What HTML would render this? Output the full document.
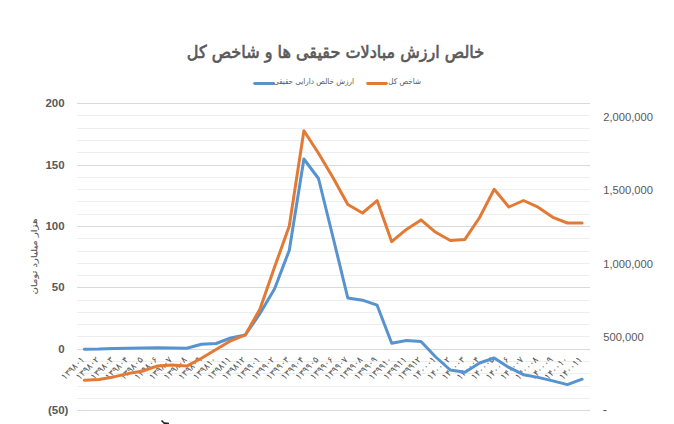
<!DOCTYPE html>
<html lang="fa"><head><meta charset="utf-8"><title>chart</title>
<style>
html,body{margin:0;padding:0;background:#fff;}
body{width:674px;height:424px;overflow:hidden;position:relative;}
svg{position:absolute;left:0;top:0;}
.la{font-family:"Liberation Sans","DejaVu Sans",sans-serif;font-weight:bold;font-size:11.5px;fill:#595959;}
.ra{font-family:"Liberation Sans","DejaVu Sans",sans-serif;font-size:11.2px;fill:#595959;}
.xa{font-family:"DejaVu Sans",sans-serif;font-size:8.8px;fill:#595959;stroke:#595959;stroke-width:0.05px;}
.tt{font-family:"DejaVu Sans",sans-serif;font-size:16.05px;fill:#595959;stroke:#595959;stroke-width:0.6px;}
.lg{font-family:"DejaVu Sans",sans-serif;font-stretch:condensed;font-size:8px;fill:#595959;}
.yt{font-family:"DejaVu Sans",sans-serif;font-size:8.6px;fill:#595959;stroke:#595959;stroke-width:0.15px;}
</style></head>
<body>
<svg width="674" height="424" viewBox="0 0 674 424">
<rect width="674" height="424" fill="#fff"/>
<rect x="77" y="410" width="513" height="1" fill="#D9D9D9"/>
<rect x="77" y="398" width="513" height="1" fill="#EEEEEE"/>
<rect x="77" y="386" width="513" height="1" fill="#EEEEEE"/>
<rect x="77" y="373" width="513" height="1" fill="#EEEEEE"/>
<rect x="77" y="361" width="513" height="1" fill="#EEEEEE"/>
<rect x="77" y="349" width="513" height="1" fill="#D9D9D9"/>
<rect x="77" y="336" width="513" height="1" fill="#EEEEEE"/>
<rect x="77" y="324" width="513" height="1" fill="#EEEEEE"/>
<rect x="77" y="312" width="513" height="1" fill="#EEEEEE"/>
<rect x="77" y="300" width="513" height="1" fill="#EEEEEE"/>
<rect x="77" y="287" width="513" height="1" fill="#D9D9D9"/>
<rect x="77" y="275" width="513" height="1" fill="#EEEEEE"/>
<rect x="77" y="263" width="513" height="1" fill="#EEEEEE"/>
<rect x="77" y="251" width="513" height="1" fill="#EEEEEE"/>
<rect x="77" y="238" width="513" height="1" fill="#EEEEEE"/>
<rect x="77" y="226" width="513" height="1" fill="#D9D9D9"/>
<rect x="77" y="214" width="513" height="1" fill="#EEEEEE"/>
<rect x="77" y="201" width="513" height="1" fill="#EEEEEE"/>
<rect x="77" y="189" width="513" height="1" fill="#EEEEEE"/>
<rect x="77" y="177" width="513" height="1" fill="#EEEEEE"/>
<rect x="77" y="165" width="513" height="1" fill="#D9D9D9"/>
<rect x="77" y="152" width="513" height="1" fill="#EEEEEE"/>
<rect x="77" y="140" width="513" height="1" fill="#EEEEEE"/>
<rect x="77" y="128" width="513" height="1" fill="#EEEEEE"/>
<rect x="77" y="115" width="513" height="1" fill="#EEEEEE"/>
<rect x="77" y="103" width="513" height="1" fill="#D9D9D9"/>
<text transform="translate(335.5,57.9) scale(1,1.1)" x="0" y="0" text-anchor="middle" class="tt">خالص ارزش مبادلات حقیقی ها و شاخص کل</text>
<line x1="254.6" x2="273.4" y1="83.5" y2="83.5" stroke="#5693CF" stroke-width="2.8" stroke-linecap="round"/>
<text x="354" y="84.3" text-anchor="end" class="lg">ارزش خالص دارایی حقیقی</text>
<line x1="367.6" x2="386.4" y1="83.5" y2="83.5" stroke="#E27A35" stroke-width="2.8" stroke-linecap="round"/>
<text x="421" y="84.3" text-anchor="end" class="lg">شاخص کل</text>
<text x="64.60" y="106.9" text-anchor="end" class="la">200</text>
<text x="64.60" y="169.0" text-anchor="end" class="la">150</text>
<text x="64.60" y="230.0" text-anchor="end" class="la">100</text>
<text x="64.60" y="291.0" text-anchor="end" class="la">50</text>
<text x="64.60" y="352.9" text-anchor="end" class="la">0</text>
<text x="68.43" y="413.9" text-anchor="end" class="la">(50)</text>
<text x="603.2" y="120.7" class="ra">2,000,000</text>
<text x="603.2" y="194.4" class="ra">1,500,000</text>
<text x="603.2" y="268.3" class="ra">1,000,000</text>
<text x="603.2" y="340.8" class="ra">500,000</text>
<text x="602.8" y="413.7" class="ra" style="font-size:13px">-</text>
<text transform="translate(36.8,256.5) rotate(-90) scale(1.17,0.92)" text-anchor="middle" class="yt">هزار میلیارد تومان</text>
<text transform="translate(84.9,360.1) rotate(-45)" text-anchor="end" class="xa">۱۳۹۸۰۱</text>
<text transform="translate(99.5,360.1) rotate(-45)" text-anchor="end" class="xa">۱۳۹۸۰۲</text>
<text transform="translate(114.2,360.1) rotate(-45)" text-anchor="end" class="xa">۱۳۹۸۰۳</text>
<text transform="translate(128.8,360.1) rotate(-45)" text-anchor="end" class="xa">۱۳۹۸۰۴</text>
<text transform="translate(143.5,360.1) rotate(-45)" text-anchor="end" class="xa">۱۳۹۸۰۵</text>
<text transform="translate(158.1,360.1) rotate(-45)" text-anchor="end" class="xa">۱۳۹۸۰۶</text>
<text transform="translate(172.7,360.1) rotate(-45)" text-anchor="end" class="xa">۱۳۹۸۰۷</text>
<text transform="translate(187.4,360.1) rotate(-45)" text-anchor="end" class="xa">۱۳۹۸۰۸</text>
<text transform="translate(202.0,360.1) rotate(-45)" text-anchor="end" class="xa">۱۳۹۸۰۹</text>
<text transform="translate(216.7,360.1) rotate(-45)" text-anchor="end" class="xa">۱۳۹۸۱۰</text>
<text transform="translate(231.3,360.1) rotate(-45)" text-anchor="end" class="xa">۱۳۹۸۱۱</text>
<text transform="translate(245.9,360.1) rotate(-45)" text-anchor="end" class="xa">۱۳۹۸۱۲</text>
<text transform="translate(260.6,360.1) rotate(-45)" text-anchor="end" class="xa">۱۳۹۹۰۱</text>
<text transform="translate(275.2,360.1) rotate(-45)" text-anchor="end" class="xa">۱۳۹۹۰۲</text>
<text transform="translate(289.9,360.1) rotate(-45)" text-anchor="end" class="xa">۱۳۹۹۰۳</text>
<text transform="translate(304.5,360.1) rotate(-45)" text-anchor="end" class="xa">۱۳۹۹۰۴</text>
<text transform="translate(319.1,360.1) rotate(-45)" text-anchor="end" class="xa">۱۳۹۹۰۵</text>
<text transform="translate(333.8,360.1) rotate(-45)" text-anchor="end" class="xa">۱۳۹۹۰۶</text>
<text transform="translate(348.4,360.1) rotate(-45)" text-anchor="end" class="xa">۱۳۹۹۰۷</text>
<text transform="translate(363.1,360.1) rotate(-45)" text-anchor="end" class="xa">۱۳۹۹۰۸</text>
<text transform="translate(377.7,360.1) rotate(-45)" text-anchor="end" class="xa">۱۳۹۹۰۹</text>
<text transform="translate(392.3,360.1) rotate(-45)" text-anchor="end" class="xa">۱۳۹۹۱۰</text>
<text transform="translate(407.0,360.1) rotate(-45)" text-anchor="end" class="xa">۱۳۹۹۱۱</text>
<text transform="translate(421.6,360.1) rotate(-45)" text-anchor="end" class="xa">۱۳۹۹۱۲</text>
<text transform="translate(436.3,360.1) rotate(-45)" text-anchor="end" class="xa">۱۴۰۰۰۱</text>
<text transform="translate(450.9,360.1) rotate(-45)" text-anchor="end" class="xa">۱۴۰۰۰۲</text>
<text transform="translate(465.5,360.1) rotate(-45)" text-anchor="end" class="xa">۱۴۰۰۰۳</text>
<text transform="translate(480.2,360.1) rotate(-45)" text-anchor="end" class="xa">۱۴۰۰۰۴</text>
<text transform="translate(494.8,360.1) rotate(-45)" text-anchor="end" class="xa">۱۴۰۰۰۵</text>
<text transform="translate(509.5,360.1) rotate(-45)" text-anchor="end" class="xa">۱۴۰۰۰۶</text>
<text transform="translate(524.1,360.1) rotate(-45)" text-anchor="end" class="xa">۱۴۰۰۰۷</text>
<text transform="translate(538.7,360.1) rotate(-45)" text-anchor="end" class="xa">۱۴۰۰۰۸</text>
<text transform="translate(553.4,360.1) rotate(-45)" text-anchor="end" class="xa">۱۴۰۰۰۹</text>
<text transform="translate(568.0,360.1) rotate(-45)" text-anchor="end" class="xa">۱۴۰۰۱۰</text>
<text transform="translate(582.7,360.1) rotate(-45)" text-anchor="end" class="xa">۱۴۰۰۱۱</text>
<polyline points="84.3,349.2 98.9,349.0 113.6,348.4 128.2,348.2 142.9,348.0 157.5,347.7 172.1,348.0 186.8,348.2 201.4,344.2 216.1,343.5 230.7,338.0 245.3,335.0 260.0,313.4 274.6,288.8 289.3,250.2 303.9,159.0 318.5,178.5 333.2,238.0 347.8,298.0 362.5,300.2 377.1,305.2 391.7,343.2 406.4,340.6 421.0,341.5 435.7,357.0 450.3,370.0 464.9,372.3 479.6,363.0 494.2,358.0 508.9,367.4 523.5,374.7 538.1,377.4 552.8,380.9 567.4,384.6 582.1,379.2" fill="none" stroke="#5693CF" stroke-width="3" stroke-linejoin="round" stroke-linecap="round"/>
<polyline points="84.3,380.2 98.9,379.4 113.6,376.9 128.2,373.6 142.9,371.0 157.5,365.9 172.1,365.0 186.8,366.1 201.4,358.2 216.1,349.5 230.7,340.8 245.3,334.9 260.0,309.0 274.6,267.0 289.3,226.0 303.9,130.8 318.5,153.3 333.2,178.0 347.8,204.5 362.5,213.0 377.1,200.6 391.7,241.7 406.4,229.4 421.0,219.9 435.7,232.3 450.3,240.5 464.9,239.4 479.6,217.5 494.2,189.3 508.9,207.0 523.5,200.5 538.1,207.2 552.8,217.3 567.4,223.0 582.1,223.0" fill="none" stroke="#E27A35" stroke-width="3" stroke-linejoin="round" stroke-linecap="round"/>
<path d="M161.5,420.5 L165,424 M164.5,423 L169,423.5" stroke="#222" stroke-width="1.5" fill="none"/>
</svg>
</body></html>
